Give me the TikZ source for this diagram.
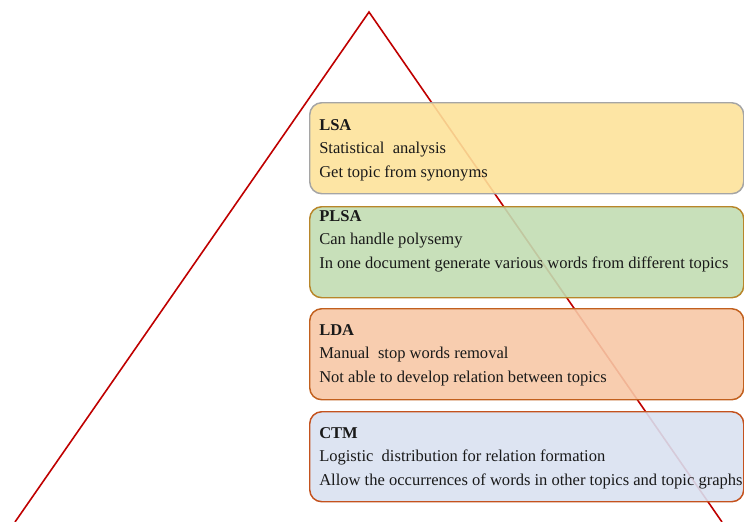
\documentclass[tikz,border=0pt]{standalone}
\usepackage{fontspec}
\setmainfont{Liberation Serif}
\begin{document}
\begin{tikzpicture}[x=0.75pt,y=-0.75pt,
  tri/.style={draw=red!75!black, line width=1.2pt, line join=miter},
  layer/.style={rounded corners=9pt, line width=1.1pt, fill opacity=0.9, anchor=north west,
    minimum width=325.5pt, minimum height=68.25pt, inner sep=0pt},
  txt/.style={anchor=base west, inner sep=0pt, font=\fontsize{12.4}{14}\selectfont, text=black!90},
  head/.style={txt, font=\fontsize{12.4}{14}\selectfont\bfseries}]
\useasboundingbox (0,0) rectangle (744,522);
\definecolor{lsafill}{HTML}{FDE29A}
\definecolor{lsaline}{HTML}{A5A5A5}
\definecolor{plsafill}{HTML}{C2DDB2}
\definecolor{plsaline}{HTML}{B8862A}
\definecolor{ldafill}{HTML}{F7C8A6}
\definecolor{ldaline}{HTML}{C2601E}
\definecolor{ctmfill}{HTML}{D9E1F1}
\definecolor{ctmline}{HTML}{C4521E}
% pyramid outline
\coordinate (apex) at (369,12);
\coordinate (bl) at (15,522);
\coordinate (br) at (722,522);
\draw[tri] (bl) -- (apex) -- (br);
% layers
\node[layer, draw=lsaline, fill=lsafill] (lsa) at (309,102) {};
\node[layer, draw=plsaline, fill=plsafill] (plsa) at (309,206) {};
\node[layer, draw=ldaline, fill=ldafill] (lda) at (309,308) {};
\node[layer, draw=ctmline, fill=ctmfill, minimum height=67.5pt] (ctm) at (309,411) {};
% texts
\node[head] (t1a) at (319,130) {LSA};
\node[txt] (t1b) at (319,153.5) {Statistical\ \ analysis};
\node[txt] (t1c) at (319,177) {Get topic from synonyms};
\node[head] (t2a) at (319,221) {PLSA};
\node[txt] (t2b) at (319,244.5) {Can handle polysemy};
\node[txt] (t2c) at (319,268) {In one document generate various words from different topics};
\node[head] (t3a) at (319,335) {LDA};
\node[txt] (t3b) at (319,358.5) {Manual\ \ stop words removal};
\node[txt] (t3c) at (319,382) {Not able to develop relation between topics};
\node[head] (t4a) at (319,438) {CTM};
\node[txt] (t4b) at (319,461.5) {Logistic\ \ distribution for relation formation};
\node[txt] (t4c) at (319,485) {Allow the occurrences of words in other topics and topic graphs};
\end{tikzpicture}
\end{document}
